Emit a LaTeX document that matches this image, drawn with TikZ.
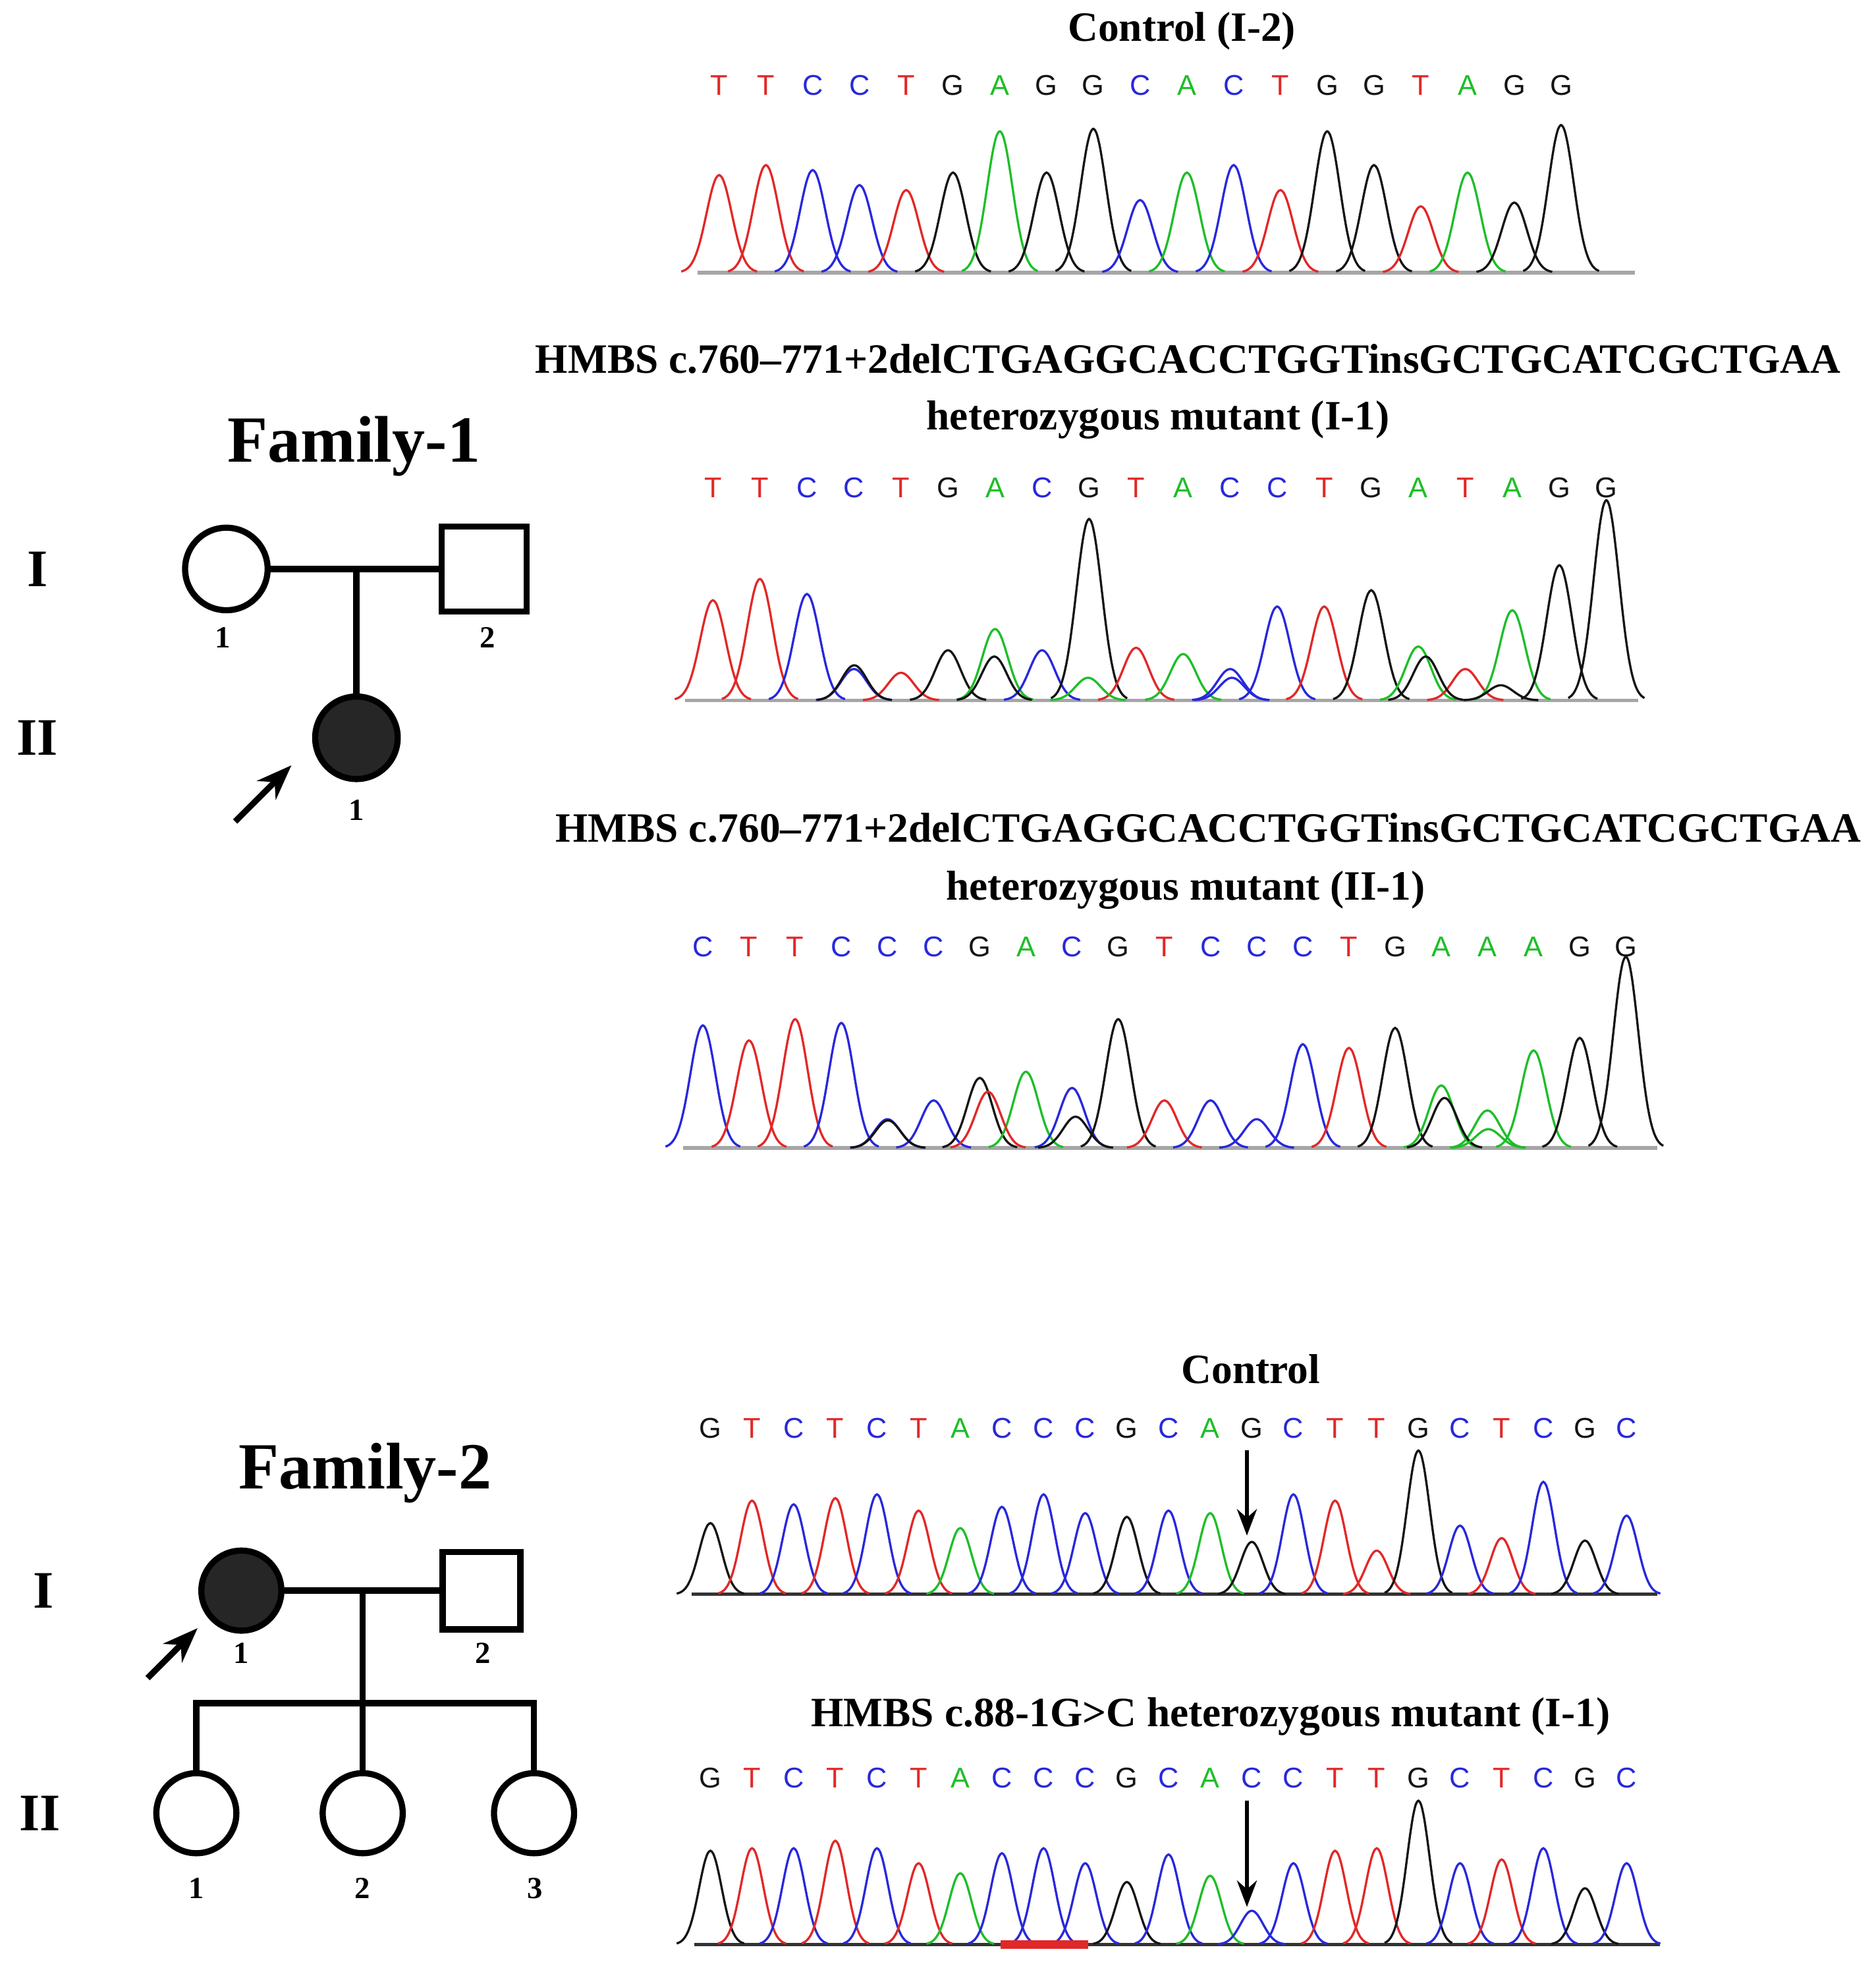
\documentclass[tikz,border=0pt]{standalone}
\usepackage{fontspec}
\setmainfont{Liberation Serif}
\newfontfamily\basefont{Liberation Sans}
\usetikzlibrary{arrows.meta}
\definecolor{colT}{RGB}{225,40,40}
\definecolor{colC}{RGB}{40,40,220}
\definecolor{colA}{RGB}{30,190,40}
\definecolor{colG}{RGB}{20,20,20}
\tikzset{
  ped/.style={line width=1.4pt, inner sep=0pt},
  title/.style={font=\fontsize{9.5}{11}\selectfont\bfseries},
  fam/.style={font=\fontsize{15}{17}\selectfont\bfseries},
  gen/.style={font=\fontsize{12}{14}\selectfont\bfseries},
  num/.style={font=\fontsize{7}{8}\selectfont\bfseries},
  base/.style={font=\fontsize{6.5}{7}\selectfont\basefont},
  peak/.style={line width=0.5pt},
  baseline/.style={gray!70, line width=0.8pt}
}
% #1 x0, #2 dx, #3 letter y, #4 base y, #5 name, #6 list letter/height
\newcommand{\seqtrace}[6]{%
  \foreach \b/\h [count=\i from 0] in {#6}{
    \pgfmathsetmacro\px{#1+\i*#2}
    \node[base, text=col\b] (#5-\i) at (\px,#3) {\b};
    \draw[peak, draw=col\b] plot[domain=-3:3, samples=25, smooth]
      ({\px+\x*#2*0.27},{#4-\h*exp(-0.5*(\x)*(\x))});
  }}
\newcommand{\peak}[4]{% x, base, height, colour
  \draw[peak, draw=#4] plot[domain=-3:3, samples=25, smooth]
    ({#1+\x*10},{#2-#3*exp(-0.5*(\x)*(\x))});}
\begin{document}
\begin{tikzpicture}[x=0.1mm, y=-0.1mm]
\useasboundingbox (0,0) rectangle (1500,1569);

% Family-1
\node[fam] (f1) at (283,357) {Family-1};
\node[gen] (f1g1) at (30,455) {I};
\node[gen] (f1g2) at (30,590) {II};
\node[ped, circle, draw, minimum size=6.6mm] (f1i1) at (181,455) {};
\node[ped, rectangle, draw, minimum size=6.8mm] (f1i2) at (387,455) {};
\node[ped, circle, draw, fill=black!85, minimum size=6.6mm] (f1ii1) at (285,590) {};
\coordinate (f1m) at (285,455);
\draw[ped] (f1i1) -- (f1i2);
\draw[ped] (f1m) -- (f1ii1);
\node[num] (n11) at (178,510) {1};
\node[num] (n12) at (390,510) {2};
\node[num] (n13) at (285,648) {1};
\coordinate (f1a) at (188,657);
\draw[ped, -{Stealth[length=8pt]}] (f1a) -- (233,612);

% Family-2
\node[fam] (f2) at (292,1178) {Family-2};
\node[gen] (f2g1) at (35,1272) {I};
\node[gen] (f2g2) at (32,1450) {II};
\node[ped, circle, draw, fill=black!85, minimum size=6.4mm] (f2i1) at (193,1272) {};
\node[ped, rectangle, draw, minimum size=6.2mm] (f2i2) at (385,1272) {};
\node[ped, circle, draw, minimum size=6.4mm] (f2ii1) at (157,1450) {};
\node[ped, circle, draw, minimum size=6.4mm] (f2ii2) at (290,1450) {};
\node[ped, circle, draw, minimum size=6.4mm] (f2ii3) at (427,1450) {};
\coordinate (f2m) at (290,1272);
\coordinate (f2l) at (157,1362);
\coordinate (f2r) at (427,1362);
\draw[ped] (f2i1) -- (f2i2);
\draw[ped] (f2m) -- (f2ii2);
\draw[ped] (f2ii1) -- (f2l) -- (f2r) -- (f2ii3);
\node[num] (n21) at (193,1322) {1};
\node[num] (n22) at (386,1322) {2};
\node[num] (n23) at (157,1510) {1};
\node[num] (n24) at (290,1510) {2};
\node[num] (n25) at (428,1510) {3};
\coordinate (f2a) at (118,1342);
\draw[ped, -{Stealth[length=8pt]}] (f2a) -- (158,1302);

% titles
\node[title] (t1) at (945,25) {Control (I-2)};
\node[title] (t2) at (950,287) {HMBS c.760–771+2delCTGAGGCACCTGGTinsGCTGCATCGCTGAA};
\node[title] (t2b) at (926,336) {heterozygous mutant (I-1)};
\node[title] (t3) at (966,662) {HMBS c.760–771+2delCTGAGGCACCTGGTinsGCTGCATCGCTGAA};
\node[title] (t3b) at (948,712) {heterozygous mutant (II-1)};
\node[title] (t4) at (1000,1095) {Control};
\node[title] (t5) at (968,1373) {HMBS c.88-1G>C heterozygous mutant (I-1)};

% traces
\draw[baseline] (558,218) -- (1307,218);
\seqtrace{575}{37.4}{68}{218}{sa}{T/78,T/86,C/82,C/70,T/66,G/80,A/113,G/80,G/115,C/58,A/80,C/86,T/66,G/113,G/86,T/53,A/80,G/56,G/118}

\draw[baseline] (548,560) -- (1310,560);
\seqtrace{570}{37.6}{390}{560}{sb}{T/80,T/97,C/85,C/25,T/22,G/40,A/57,C/40,G/145,T/42,A/37,C/25,C/75,T/75,G/88,A/43,T/25,A/72,G/108,G/160}
\peak{683}{560}{28}{colG}
\peak{795}{560}{35}{colG}
\peak{870}{560}{18}{colA}
\peak{985}{560}{18}{colC}
\peak{1140}{560}{35}{colG}
\peak{1200}{560}{12}{colG}

\draw[baseline] (546,918) -- (1325,918);
\seqtrace{562}{36.9}{757}{918}{sc}{C/98,T/86,T/103,C/100,C/23,C/38,G/56,A/61,C/48,G/103,T/38,C/38,C/23,C/83,T/80,G/96,A/50,A/30,A/78,G/88,G/153}
\peak{710}{918}{22}{colG}
\peak{790}{918}{45}{colT}
\peak{860}{918}{25}{colG}
\peak{1155}{918}{40}{colG}
\peak{1190}{918}{15}{colA}

\draw[baseline, black!80] (553,1275) -- (1325,1275);
\seqtrace{568}{33.3}{1142}{1275}{sd}{G/57,T/75,C/72,T/77,C/80,T/67,A/53,C/70,C/80,C/65,G/62,C/67,A/65,G/42,C/80,T/75,T/35,G/115,C/55,T/45,C/90,G/43,C/63}
\coordinate (ad) at (997,1160);
\draw[ped, line width=1pt, -{Stealth[length=6pt]}] (ad) -- (997,1228);

\draw[baseline, black!80] (555,1555) -- (1327,1555);
\seqtrace{568}{33.3}{1422}{1555}{se}{G/75,T/77,C/77,T/83,C/77,T/65,A/57,C/73,C/77,C/65,G/50,C/72,A/55,C/27,C/65,T/75,T/77,G/115,C/65,T/68,C/77,G/45,C/65}
\draw[line width=2pt, colT] (800,1555) -- (870,1555);
\coordinate (ae) at (997,1440);
\draw[ped, line width=1pt, -{Stealth[length=6pt]}] (ae) -- (997,1525);
\end{tikzpicture}
\end{document}
